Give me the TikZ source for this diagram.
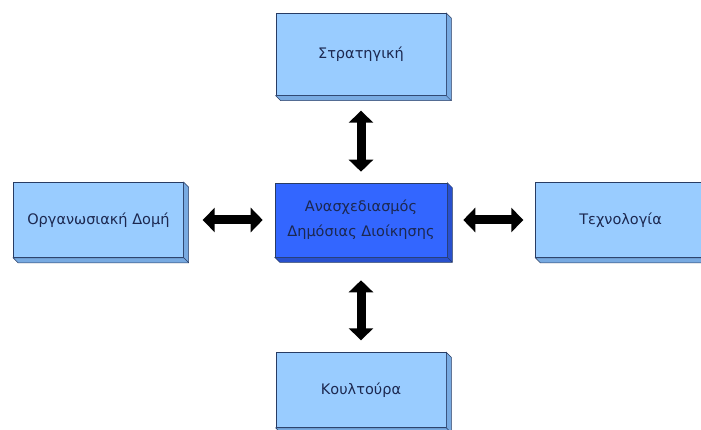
\documentclass[tikz,border=0pt]{standalone}
\usepackage{fontspec}
\setmainfont{DejaVu Sans}
\usetikzlibrary{arrows.meta}
\usetikzlibrary{calc}
\usetikzlibrary{positioning}

\definecolor{faceLight}{RGB}{153,204,255}
\definecolor{faceDark}{RGB}{51,102,255}
\definecolor{sideLight}{RGB}{120,170,225}
\definecolor{sideDark}{RGB}{40,80,205}
\definecolor{edgeBlue}{RGB}{40,60,100}
\definecolor{textNavy}{RGB}{28,40,80}

\begin{document}
\begin{tikzpicture}[x=1pt, y=-1pt,
  box/.style={draw=edgeBlue, line width=0.6pt, fill=faceLight, minimum width=170pt,
    minimum height=75pt, inner sep=0pt, align=center, text=textNavy,
    font=\fontsize{14.5}{25}\selectfont},
  hub/.style={box, fill=faceDark, minimum width=172pt, minimum height=74pt},
  fatarrow/.style={line width=9pt, {Triangle[width=24pt,length=12pt]}-{Triangle[width=24pt,length=12pt]}}]
  \clip (0, 0) rectangle (701, 430);
  \fill[white] (0, 0) rectangle (701, 430);

  % boxes
  \node[hub] (hub) at (361, 220) {Ανασχεδιασμός\\Δημόσιας Διοίκησης};
  \node[box, minimum height=82pt, above=87pt of hub] (strat) {Στρατηγική};
  \node[box, left=91pt of hub] (org) {Οργανωσιακή Δομή};
  \node[box, right=88pt of hub] (tech) {Τεχνολογία};
  \node[box, below=95pt of hub] (cult) {Κουλτούρα};

  % bevels
  \foreach \n / \s in {strat/sideLight, org/sideLight, tech/sideLight, cult/sideLight, hub/sideDark} {
    \filldraw[fill=\s, draw=edgeBlue, line width=0.5pt]
      (\n.north east) -- ++(5, 5) -- ($(\n.south east) + (5, 5)$)
      -- ($(\n.south west) + (5, 5)$) -- (\n.south west) -- (\n.south east) -- cycle;
    \draw[edgeBlue, line width=0.5pt] (\n.south east) -- ++(5, 5);
  }

  % arrows
  \draw[fatarrow, shorten <=15pt, shorten >=11pt] (strat.south) -- (hub.north);
  \draw[fatarrow, shorten <=19pt, shorten >=12pt] (org.east) -- (hub.west);
  \draw[fatarrow, shorten <=16pt, shorten >=12pt] (hub.east) -- (tech.west);
  \draw[fatarrow, shorten <=23pt, shorten >=12pt] (hub.south) -- (cult.north);
\end{tikzpicture}
\end{document}
